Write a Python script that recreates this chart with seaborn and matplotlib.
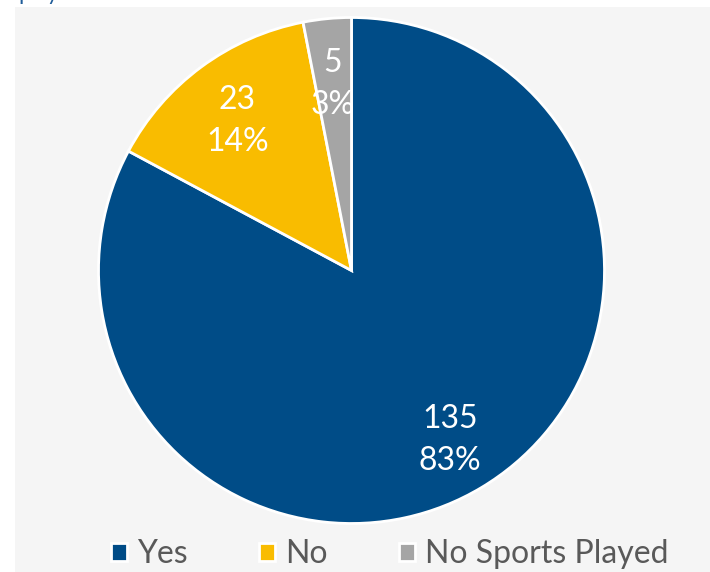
import matplotlib
matplotlib.use("Agg")
import matplotlib.pyplot as plt
import matplotlib.transforms as mtransforms
from matplotlib.patches import Rectangle
import seaborn as sns

# Responses and counts
categories = ["Yes", "No", "No Sports Played"]
counts = [135, 23, 5]
colors = ["#004C87", "#F9BC00", "#A5A5A5"]

sns.set_theme(style="white")
plt.rcParams["font.family"] = ["Lato", "DejaVu Sans"]

W, H = 710, 572
fig = plt.figure(figsize=(W / 100, H / 100), dpi=100)
fig.patch.set_facecolor("white")

# light grey chart area
fig.patches.append(Rectangle((15 / W, 0), 1, (H - 7) / H, transform=fig.transFigure,
                             facecolor="#F5F5F5", edgecolor="none", zorder=-5))

# clipped heading at the very top
fig.text(18 / W, 1.0 - 0.5 / H, "players", color="#1F5C99", fontsize=16,
         ha="left", va="baseline")

r = 253
lim = 1.05
cx, cy = 351.5, H - 270.5
half = r * lim
ax = fig.add_axes([(cx - half) / W, (cy - half) / H, 2 * half / W, 2 * half / H])
ax.set_facecolor("none")
ax.set_zorder(2)

total = sum(counts)


def fmt(p):
    n = int(round(p * total / 100.0))
    return f"{n}\n{p:.0f}%"


wedges, _, autotexts = ax.pie(
    counts, colors=colors, startangle=90, counterclock=False,
    autopct=fmt, pctdistance=0.76,
    wedgeprops=dict(edgecolor="white", linewidth=2),
    textprops=dict(color="white", fontsize=23, linespacing=1.5),
)
# nudge the value labels slightly downward
shift = mtransforms.ScaledTranslation(0, -5 / 100, fig.dpi_scale_trans)
for t in autotexts:
    t.set_transform(t.get_transform() + shift)

ax.set_xlim(-lim, lim)
ax.set_ylim(-lim, lim)
ax.set_aspect("equal")

leg = fig.legend(wedges, categories, loc="center", bbox_to_anchor=(0.549, 1 - 554 / H),
                 ncol=3, frameon=False, fontsize=23, handlelength=0.5, handleheight=0.5,
                 handletextpad=0.3, columnspacing=2.25, labelcolor="#595959")
leg.set_zorder(3)

fig.savefig("out.png", dpi=100, facecolor=fig.get_facecolor())
